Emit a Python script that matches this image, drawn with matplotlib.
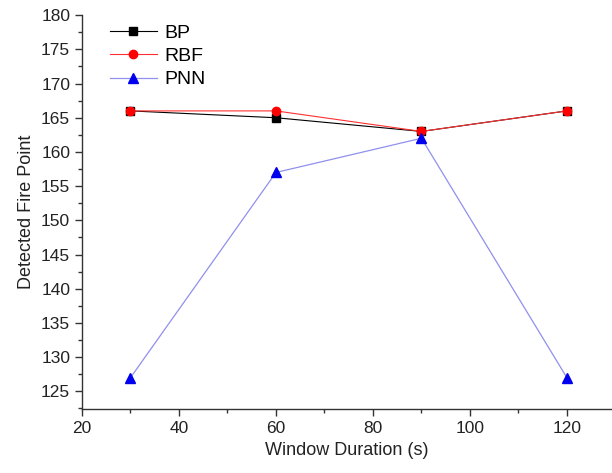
import matplotlib
matplotlib.use("Agg")
import matplotlib.pyplot as plt
from matplotlib.ticker import MultipleLocator

plt.rcParams['font.family'] = ['Liberation Sans', 'DejaVu Sans']

window = [30, 60, 90, 120]
bp = [166, 165, 163, 166]
rbf = [166, 166, 163, 166]
pnn = [127, 157, 162, 127]

fig = plt.figure(figsize=(6.12, 4.73), dpi=100)
ax = fig.add_axes([0.134, 0.135, 0.866, 0.833])

ax.plot(window, bp, color='black', lw=0.8, marker='s', ms=6, label='BP')
ax.plot(window, rbf, color='#ff3030', lw=0.8, marker='o', ms=6,
        markerfacecolor='red', markeredgecolor='red', label='RBF')
ax.plot(window, pnn, color='#9090ee', lw=0.9, marker='^', ms=7,
        markerfacecolor='#0000ee', markeredgecolor='#0000ee', label='PNN')

ax.set_xlim(20, 129.3)
ax.set_ylim(122.4, 180)
ax.xaxis.set_major_locator(MultipleLocator(20))
ax.xaxis.set_minor_locator(MultipleLocator(10))
ax.yaxis.set_major_locator(MultipleLocator(5))
ax.yaxis.set_minor_locator(MultipleLocator(2.5))
ax.spines['top'].set_visible(False)
ax.spines['right'].set_visible(False)
for s in ('left', 'bottom'):
    ax.spines[s].set_color('#333333')
    ax.spines[s].set_linewidth(1.0)
ax.tick_params(which='major', direction='out', length=5, width=1, labelsize=12.5, colors='#333333', labelcolor='#222222')
ax.tick_params(which='minor', direction='out', length=3, width=1, colors='#333333')

ax.set_xlabel('Window Duration (s)', fontsize=13, color='#222222')
ax.set_ylabel('Detected Fire Point', fontsize=13, color='#222222')

ax.legend(loc='upper left', bbox_to_anchor=(0.02, 1.022), frameon=False, fontsize=14,
          handlelength=2.4, handletextpad=0.4, labelspacing=0.3)

fig.savefig('out.png', dpi=100)
